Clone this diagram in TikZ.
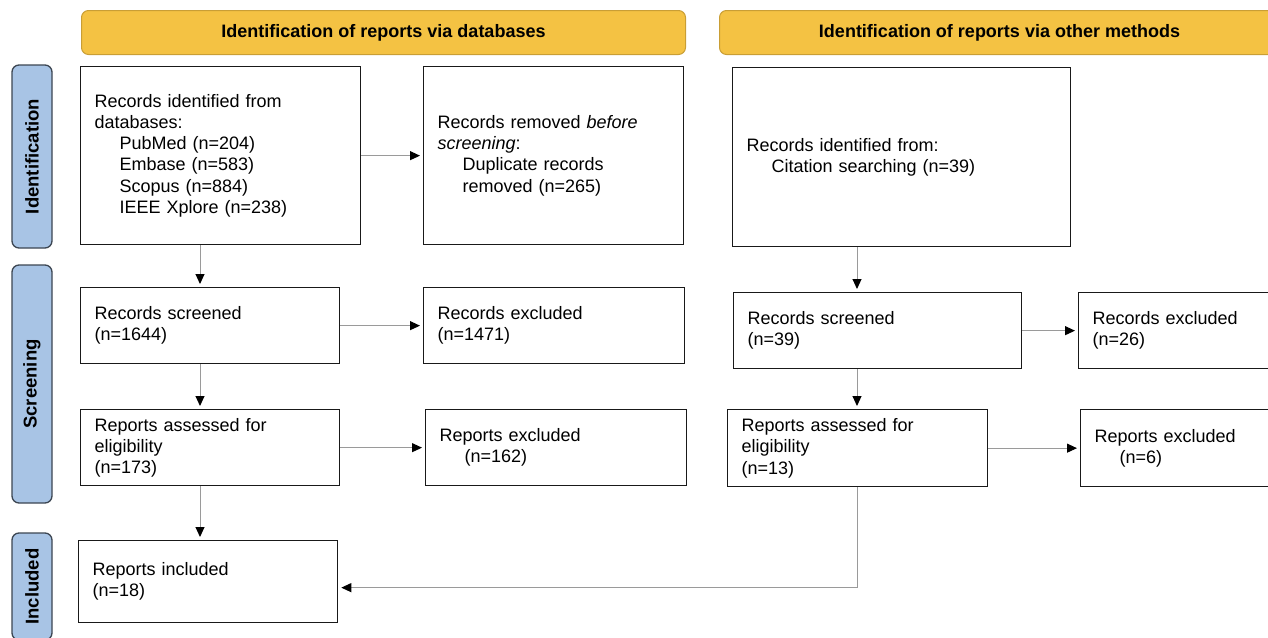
\documentclass[tikz,border=0pt]{standalone}
\usepackage{fontspec}
\setmainfont{Liberation Sans}
\usetikzlibrary{arrows.meta}

\definecolor{hdryellow}{HTML}{F4C243}
\definecolor{hdrborder}{HTML}{C99E35}
\definecolor{phaseblue}{HTML}{A8C4E5}
\definecolor{phaseborder}{HTML}{3C4652}
\definecolor{flowgray}{HTML}{9A9A9A}

\newcommand{\ind}{\hspace*{25pt}}

\tikzset{
	recbox/.style={draw=black!90, line width=1.3pt, anchor=north west, align=left,
		inner xsep=14pt, inner ysep=0pt, font=\fontsize{18}{21.2}\selectfont},
	header/.style={draw=hdrborder, fill=hdryellow, line width=1pt, rounded corners=7pt,
		anchor=north west, inner sep=0pt, font=\fontsize{18}{21}\selectfont\bfseries},
	phase/.style={draw=phaseborder, fill=phaseblue, line width=1.3pt, rounded corners=7pt,
		rotate=90, inner sep=0pt, minimum height=40pt, font=\fontsize{18.5}{21}\selectfont\bfseries},
	flow/.style={draw=flowgray, line width=1pt, shorten >=3pt,
		-{Triangle[color=black, length=10pt, width=9pt]}},
}

\begin{document}
\begin{tikzpicture}[x=1pt, y=-1pt]
	\useasboundingbox (0,0) rectangle (1268,637);
	\clip (0,0) rectangle (1268,637);

	% headers
	\node[header, minimum width=604pt, minimum height=44pt] (hdb) at (81,10) {Identification of reports via databases};
	\node[header, minimum width=570pt, minimum height=44pt] (hoth) at (719,10) {\hspace*{-10pt}Identification of reports via other methods};

	% phases
	\node[phase, minimum width=183pt] (pid) at (32,156.5) {Identification};
	\node[phase, minimum width=238pt] (pscr) at (32,384) {Screening};
	\node[phase, minimum width=107pt] (pinc) at (32,586.5) {Included};

	% databases column
	\node[recbox, text width=252pt, minimum height=178pt] (dbid) at (80,66)
		{Records identified from\\databases:\\\ind PubMed (n=204)\\\ind Embase (n=583)\\\ind Scopus (n=884)\\\ind IEEE Xplore (n=238)};
	\node[recbox, text width=232pt, minimum height=178pt] (dbrem) at (423,66)
		{Records removed \textit{before}\\\textit{screening}:\\\ind Duplicate records\\\ind removed (n=265)};
	\node[recbox, text width=231pt, minimum height=76pt] (dbscr) at (80,287)
		{Records screened\\(n=1644)};
	\node[recbox, text width=233pt, minimum height=76pt] (dbexc) at (423,287)
		{Records excluded\\(n=1471)};
	\node[recbox, text width=231pt, minimum height=76pt] (dbelig) at (80,409)
		{Reports assessed for\\eligibility\\(n=173)};
	\node[recbox, text width=233pt, minimum height=76pt] (dbrepx) at (425,409)
		{Reports excluded\\\ind(n=162)};
	\node[recbox, text width=231pt, minimum height=82pt] (incl) at (78,540)
		{Reports included\\(n=18)};

	% other methods column
	\node[recbox, text width=310pt, minimum height=179pt] (othid) at (732,67)
		{Records identified from:\\\ind Citation searching (n=39)};
	\node[recbox, text width=260pt, minimum height=76pt] (othscr) at (733,292)
		{Records screened\\(n=39)};
	\node[recbox, text width=180pt, minimum height=76pt] (othexc) at (1078,292)
		{Records excluded\\(n=26)};
	\node[recbox, text width=232pt, minimum height=77pt] (othelig) at (727,409)
		{Reports assessed for\\eligibility\\(n=13)};
	\node[recbox, text width=180pt, minimum height=77pt] (othrepx) at (1080,409)
		{Reports excluded\\\ind(n=6)};

	% arrow columns
	\coordinate (colL) at (200,0);
	\coordinate (colR) at (857,0);

	\draw[flow] (dbid.east) -- (dbid.east -| dbrem.west);
	\draw[flow] (dbid.south -| colL) -- (dbscr.north -| colL);
	\draw[flow] (dbscr.east) -- (dbscr.east -| dbexc.west);
	\draw[flow] (dbscr.south -| colL) -- (dbelig.north -| colL);
	\draw[flow] (dbelig.east) -- (dbelig.east -| dbrepx.west);
	\draw[flow] (dbelig.south -| colL) -- (incl.north -| colL);

	\draw[flow] (othid.south -| colR) -- (othscr.north -| colR);
	\draw[flow] (othscr.east) -- (othscr.east -| othexc.west);
	\draw[flow] (othscr.south -| colR) -- (othelig.north -| colR);
	\draw[flow] (othelig.east) -- (othelig.east -| othrepx.west);
	\draw[flow] (othelig.south) |- ([yshift=-6pt]incl.east);
\end{tikzpicture}
\end{document}
